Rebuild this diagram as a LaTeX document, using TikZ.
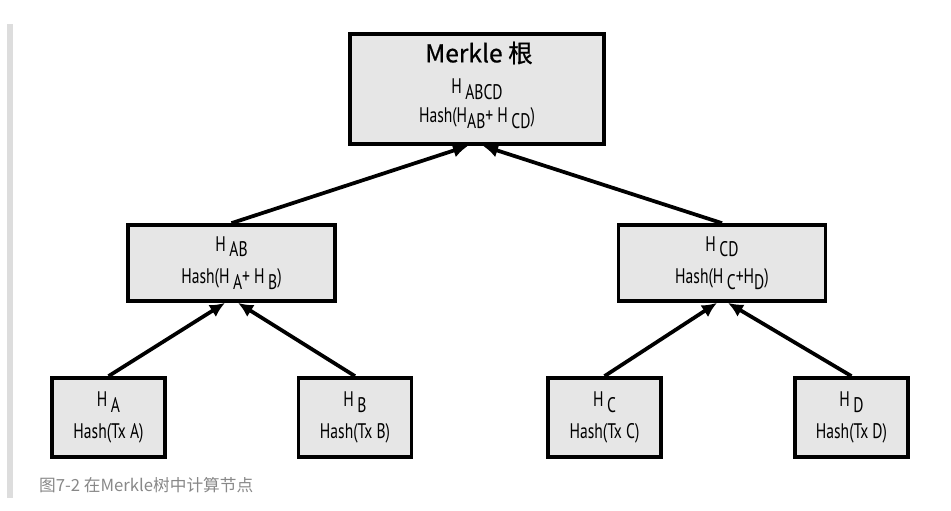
\documentclass[tikz,border=0pt]{standalone}
\usepackage{fontspec}
\setmainfont[FakeStretch=0.74]{PT Sans}
\newfontfamily\cjk{Noto Sans CJK SC}
\newfontfamily\cjkb[FakeBold=0.7]{Noto Sans CJK SC}
\usetikzlibrary{arrows.meta,calc}
\definecolor{boxgray}{HTML}{E6E6E6}
\definecolor{bargray}{HTML}{DDDDDD}
\definecolor{capgray}{HTML}{888888}
\newcommand{\sbs}[1]{\raisebox{-0.55ex}{#1}}

\begin{document}
\begin{tikzpicture}[x=0.02cm, y=-0.02cm, >={Latex[length=0.3cm,width=0.28cm]},
  hbox/.style={draw, line width=0.075cm, fill=boxgray, align=center,
    font=\fontsize{12}{15}\selectfont, inner sep=0pt},
  rootbox/.style={hbox, minimum width=5.08cm, minimum height=2.2cm},
  midbox/.style={hbox, minimum width=4.14cm, minimum height=1.52cm},
  leafbox/.style={hbox, minimum width=2.26cm, minimum height=1.58cm},
  link/.style={->, line width=0.075cm}]
\useasboundingbox (0,0) rectangle (951,511);
\fill[bargray] (7,24) rectangle (13,498);

\node[rootbox] (root) at (477,89) {};
\node at (479,53) {\cjkb\fontsize{14}{16}\selectfont Merkle 根};
\node[font=\fontsize{12}{15}\selectfont] at (477,89) {H\,\sbs{ABCD}};
\node[font=\fontsize{12}{15}\selectfont] at (477,118) {Hash(H\sbs{AB}+ H\,\sbs{CD})};

\node[midbox] (hab) at (231.5,263) {H\,\sbs{AB}\\[3.5pt] Hash(H\,\sbs{A}+ H\,\sbs{B})};
\node[midbox] (hcd) at (722,263) {H\,\sbs{CD}\\[3.5pt] Hash(H\,\sbs{C}+H\sbs{D})};

\node[leafbox] (ha) at (108.5,417.5) {H\,\sbs{A}\\[3.5pt] Hash(Tx A)};
\node[leafbox] (hb) at (355,417.5) {H\,\sbs{B}\\[3.5pt] Hash(Tx B)};
\node[leafbox] (hc) at (604.5,417.5) {H\,\sbs{C}\\[3.5pt] Hash(Tx C)};
\node[leafbox] (hd) at (851.5,417.5) {H\,\sbs{D}\\[3.5pt] Hash(Tx D)};

\draw[link] (ha.north) -- ([xshift=-0.13cm]hab.south);
\draw[link] (hb.north) -- ([xshift=0.13cm]hab.south);
\draw[link] (hc.north) -- ([xshift=-0.1cm]hcd.south);
\draw[link] (hd.north) -- ([xshift=0.12cm]hcd.south);
\draw[link] (hab.north) -- ([xshift=-0.18cm]root.south);
\draw[link] (hcd.north) -- ([xshift=0.12cm]root.south);

\node[anchor=west, text=capgray, font=\cjk\fontsize{9.5}{12}\selectfont] (cap) at (33,485) {图7-2 在Merkle树中计算节点};
\end{tikzpicture}
\end{document}
